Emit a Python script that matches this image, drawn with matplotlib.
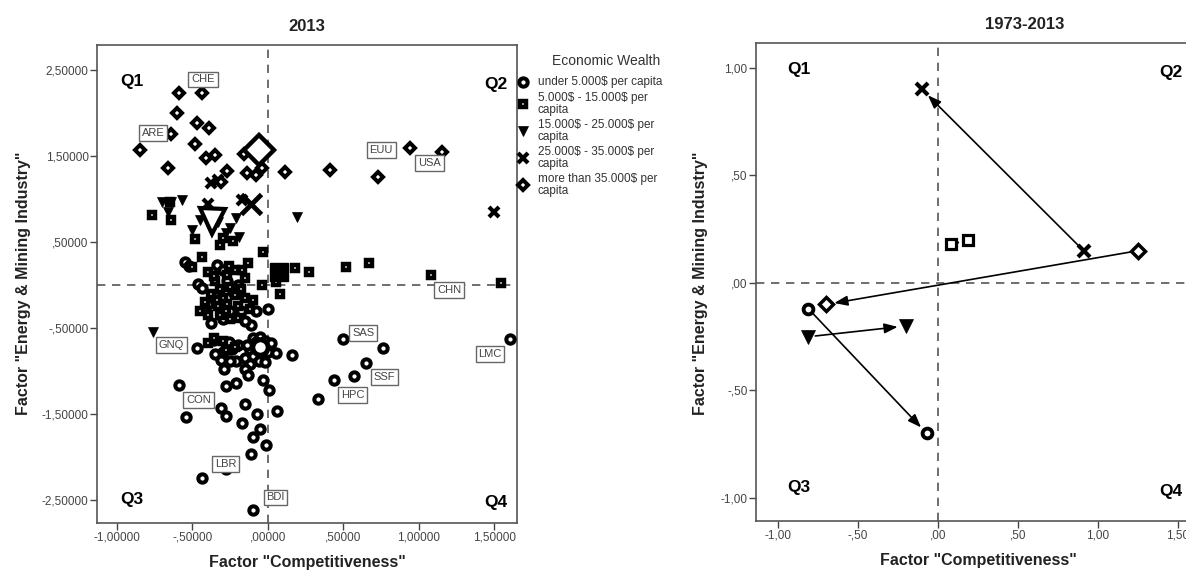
import matplotlib
matplotlib.use("Agg")
import matplotlib.pyplot as plt
from matplotlib.lines import Line2D

plt.rcParams['font.family'] = ['Liberation Sans', 'DejaVu Sans']

# ---------------- data: 2013 scatter ----------------
under5_x = [-0.55, -0.52, -0.34, -0.30, -0.46, -0.44, -0.27, -0.20, -0.38, -0.30, -0.25, -0.11, -0.08, 0.00,
            -0.20, -0.15, -0.47, -0.36, -0.26, -0.20, -0.31, -0.29, -0.21, -0.25, -0.30, -0.10, -0.05, -0.02,
            0.02, -0.08, -0.12, -0.04, 0.00, -0.15, -0.10, -0.06, -0.12, -0.15, -0.13, -0.03, 0.05, 0.16,
            -0.59, -0.54, -0.28, -0.21, -0.31, -0.28, -0.15, -0.07, 0.06, -0.03, 0.01, -0.17, -0.05, -0.10,
            -0.01, -0.11, -0.44, -0.28, -0.10, 0.50, 0.76, 0.65, 0.57, 0.44, 0.33, 1.60,
            -0.40, -0.34, -0.23, -0.18, -0.08, -0.14, -0.02, -0.24, -0.35]
under5_y = [0.27, 0.22, 0.23, 0.18, 0.01, -0.03, 0.05, 0.00, -0.44, -0.40, -0.30, -0.46, -0.30, -0.28,
            -0.35, -0.42, -0.73, -0.64, -0.66, -0.70, -0.87, -0.98, -0.88, -0.88, -0.78, -0.62, -0.60, -0.65,
            -0.68, -0.70, -0.75, -0.75, -0.78, -0.85, -0.82, -0.88, -0.92, -0.98, -1.05, -0.70, -0.79, -0.81,
            -1.16, -1.53, -1.17, -1.14, -1.43, -1.52, -1.38, -1.50, -1.46, -1.10, -1.22, -1.61, -1.68, -1.77,
            -1.86, -1.96, -2.24, -2.14, -2.62, -0.63, -0.73, -0.91, -1.06, -1.11, -1.33, -0.63,
            -0.22, -0.18, -0.08, -0.30, -0.66, -0.70, -0.90, -0.74, -0.80]

w5_15_x = [-0.77, -0.64, -0.65, -0.48, -0.32, -0.23, -0.30, -0.03, -0.44, -0.13, 0.18, 0.27, 0.52, 0.67,
           1.08, 1.54, -0.50, -0.40, -0.22, -0.17, -0.27, -0.35, -0.32, -0.25, -0.15, -0.04, 0.08, 0.05,
           -0.38, -0.30, -0.22, -0.27, -0.33, -0.45, -0.40, -0.20, -0.15, -0.25, -0.32, -0.36, -0.40,
           -0.30, -0.22, -0.28, -0.18, -0.10, -0.42, -0.36, -0.28, -0.20, -0.12, -0.26, -0.34]
w5_15_y = [0.81, 0.76, 0.97, 0.53, 0.47, 0.51, 0.55, 0.38, 0.33, 0.26, 0.20, 0.15, 0.21, 0.26,
           0.12, 0.02, 0.21, 0.15, 0.17, 0.17, 0.12, 0.05, -0.05, -0.02, 0.08, 0.00, -0.10, 0.04,
           -0.10, -0.15, -0.12, -0.22, -0.25, -0.30, -0.35, -0.25, -0.15, -0.40, -0.35, -0.62, -0.68,
           -0.65, -0.72, -0.75, -0.05, -0.18, -0.20, 0.10, -0.30, -0.38, -0.28, 0.22, -0.18]

w15_25_x = [-0.70, -0.64, -0.57, -0.66, 0.19, -0.45, -0.38, -0.25, -0.21, -0.50, -0.19, -0.33, -0.28, -0.76]
w15_25_y = [0.97, 0.97, 0.99, 0.85, 0.79, 0.76, 0.64, 0.66, 0.78, 0.64, 0.56, 0.73, 0.60, -0.55]

w25_35_x = [-0.38, -0.40, -0.17, 1.50, -0.33]
w25_35_y = [1.19, 0.94, 0.99, 0.85, 1.22]

over35_x = [-0.59, -0.44, -0.60, -0.47, -0.39, -0.64, -0.85, -0.48, -0.41, -0.35, -0.66, -0.16, -0.27,
            -0.31, -0.14, -0.08, -0.04, 0.11, 0.41, 0.73, 0.94, 1.15]
over35_y = [2.23, 2.23, 2.00, 1.88, 1.83, 1.75, 1.57, 1.64, 1.48, 1.51, 1.36, 1.52, 1.32,
            1.20, 1.30, 1.28, 1.36, 1.31, 1.34, 1.25, 1.59, 1.55]

# group centroids (large markers)
centroid_x = [-0.05, 0.07, -0.37, -0.11, -0.06]
centroid_y = [-0.72, 0.15, 0.74, 0.94, 1.57]

# labelled countries / regions
label_names = ["CHE", "ARE", "EUU", "USA", "CHN", "SAS", "GNQ", "LMC", "SSF", "HPC", "CON", "LBR", "BDI"]
label_x = [-0.43, -0.76, 0.75, 1.07, 1.20, 0.63, -0.64, 1.47, 0.77, 0.56, -0.46, -0.28, 0.05]
label_y = [2.39, 1.77, 1.57, 1.42, -0.06, -0.56, -0.70, -0.80, -1.07, -1.28, -1.34, -2.08, -2.47]

# ---------------- data: 1973-2013 trajectories ----------------
traj_start_x = [-0.81, 1.25, 0.91, -0.81, 0.08]
traj_start_y = [-0.12, 0.15, 0.15, -0.25, 0.18]
traj_end_x = [-0.07, -0.70, -0.10, -0.20, 0.19]
traj_end_y = [-0.70, -0.10, 0.90, -0.20, 0.20]

group_labels = ["under 5.000\\$ per capita", "5.000\\$ - 15.000\\$ per\ncapita",
                "15.000\\$ - 25.000\\$ per\ncapita", "25.000\\$ - 35.000\\$ per\ncapita",
                "more than 35.000\\$ per\ncapita"]

left_yticks = [2.5, 1.5, 0.5, -0.5, -1.5, -2.5]
left_xticks = [-1.0, -0.5, 0.0, 0.5, 1.0, 1.5]
right_ticks_y = [1.0, 0.5, 0.0, -0.5, -1.0]
right_ticks_x = [-1.0, -0.5, 0.0, 0.5, 1.0, 1.5]


def spss_fmt(v, dec):
    s = f"{abs(v):.{dec}f}".replace(".", ",")
    if s.startswith("0,"):
        s = s[1:]
    return ("-" if v < 0 else "") + s


# marker styles per group (small)
styles = [
    dict(marker='o', ms=6.0, mfc='white', mec='black', mew=2.9),
    dict(marker='s', ms=4.9, mfc='white', mec='black', mew=3.2),
    dict(marker='v', ms=7.5, mfc='black', mec='black', mew=0.5),
    dict(marker='x', ms=6.5, mfc='black', mec='black', mew=3.0),
    dict(marker='D', ms=5.0, mfc='white', mec='black', mew=2.9),
]
big_styles = [
    dict(marker='o', ms=11, mfc='white', mec='black', mew=3.5),
    dict(marker='s', ms=13, mfc='black', mec='black', mew=1.0),
    dict(marker='v', ms=18, mfc='white', mec='black', mew=3.0),
    dict(marker='x', ms=15, mfc='black', mec='black', mew=3.5),
    dict(marker='D', ms=15, mfc='white', mec='black', mew=3.2),
]
traj_styles = [
    dict(marker='o', ms=7, mfc='white', mec='black', mew=2.8),
    dict(marker='D', ms=7, mfc='white', mec='black', mew=2.5),
    dict(marker='x', ms=8, mfc='black', mec='black', mew=3.0),
    dict(marker='v', ms=10, mfc='black', mec='black', mew=0.5),
    dict(marker='s', ms=6.5, mfc='white', mec='black', mew=2.3),
]

W, H = 1186, 572
fig = plt.figure(figsize=(W / 100, H / 100), dpi=100)

spine_c = '#555555'
tick_c = '#444444'
dash_c = '#555555'

# ---------------- left panel ----------------
axL = fig.add_axes([97 / W, 1 - 523 / H, 420 / W, 478 / H])
axL.set_xlim(-1.132, 1.649)
axL.set_ylim(-2.767, 2.79)
axL.axhline(0, color=dash_c, lw=1.2, ls=(0, (5, 4)), zorder=1)
axL.axvline(0, color=dash_c, lw=1.2, ls=(0, (5, 4)), zorder=1)

groups = [(under5_x, under5_y), (w5_15_x, w5_15_y), (w15_25_x, w15_25_y),
          (w25_35_x, w25_35_y), (over35_x, over35_y)]
for (gx, gy), st in zip(groups, styles):
    axL.plot(gx, gy, ls='none', zorder=3, **st)
for cx, cy, st in zip(centroid_x, centroid_y, big_styles):
    axL.plot([cx], [cy], ls='none', zorder=4, **st)

for name, lx, ly in zip(label_names, label_x, label_y):
    axL.text(lx, ly, name, ha='center', va='center', fontsize=8, color='#444444', zorder=5,
             bbox=dict(boxstyle='square,pad=0.25', fc='white', ec='#666666', lw=1.0))

axL.set_xticks(left_xticks)
axL.set_xticklabels([spss_fmt(v, 5) for v in left_xticks])
axL.set_yticks(left_yticks)
axL.set_yticklabels([spss_fmt(v, 5) for v in left_yticks])
axL.tick_params(direction='out', length=5, width=1, colors=tick_c, labelsize=8.5, pad=1)
for sp in axL.spines.values():
    sp.set_color(spine_c)
    sp.set_linewidth(1.2)
axL.set_title("2013", fontsize=12, fontweight='bold', color='#222222', pad=10)
axL.set_xlabel('Factor "Competitiveness"', fontsize=11.5, fontweight='bold', color='#222222', va='center')
axL.xaxis.set_label_coords((307 - 97) / 420, -(562 - 523) / 478)
axL.set_ylabel('Factor "Energy & Mining Industry"', fontsize=11.5, fontweight='bold', color='#222222', va='center')
axL.yaxis.set_label_coords(-(97 - 24) / 420, (523 - 283) / 478)
qkw = dict(fontsize=12.5, fontweight='bold', color='black', transform=axL.transAxes, va='center')
axL.text(0.055, 0.923, "Q1", ha='left', **qkw)
axL.text(0.978, 0.918, "Q2", ha='right', **qkw)
axL.text(0.055, 0.050, "Q3", ha='left', **qkw)
axL.text(0.978, 0.042, "Q4", ha='right', **qkw)

# ---------------- legend (manual) ----------------
fig.text(606 / W, 1 - 61 / H, "Economic Wealth", ha='center', va='center', fontsize=10, color='#333333')
leg_text_y = [82, 104, 131, 158, 185]
for lab, ty, st in zip(group_labels, leg_text_y, styles):
    fig.text(538 / W, 1 - ty / H, lab, ha='left', va='center', fontsize=8.5, color='#333333',
             linespacing=0.95)
    fig.add_artist(Line2D([523 / W], [1 - ty / H], transform=fig.transFigure, ls='none', **st))

# ---------------- right panel ----------------
axR = fig.add_axes([756 / W, 1 - 521 / H, 444 / W, 478 / H])
axR.set_xlim(-1.1375, 1.6375)
axR.set_ylim(-1.107, 1.116)
axR.axhline(0, color=dash_c, lw=1.2, ls=(0, (5, 4)), zorder=1)
axR.axvline(0, color=dash_c, lw=1.2, ls=(0, (5, 4)), zorder=1)

for sx, sy, ex, ey, st in zip(traj_start_x, traj_start_y, traj_end_x, traj_end_y, traj_styles):
    axR.annotate("", xy=(ex, ey), xytext=(sx, sy),
                 arrowprops=dict(arrowstyle='-|>,head_length=0.8,head_width=0.3', color='black', lw=1.2,
                                 shrinkA=5, shrinkB=6), zorder=2)
    axR.plot([sx, ex], [sy, ey], ls='none', zorder=3, **st)

axR.set_xticks(right_ticks_x)
axR.set_xticklabels([spss_fmt(v, 2) for v in right_ticks_x])
axR.set_yticks(right_ticks_y)
axR.set_yticklabels([spss_fmt(v, 2) for v in right_ticks_y])
axR.tick_params(direction='out', length=5, width=1, colors=tick_c, labelsize=8.5, pad=1)
for sp in axR.spines.values():
    sp.set_color(spine_c)
    sp.set_linewidth(1.2)
axR.set_title("1973-2013", fontsize=12, fontweight='bold', color='#222222', pad=10, x=(1025 - 756) / 444)
axR.set_xlabel('Factor "Competitiveness"', fontsize=11.5, fontweight='bold', color='#222222', va='center')
axR.xaxis.set_label_coords((978 - 756) / 444, -(561 - 521) / 478)
axR.set_ylabel('Factor "Energy & Mining Industry"', fontsize=11.5, fontweight='bold', color='#222222', va='center')
axR.yaxis.set_label_coords(-(756 - 701) / 444, (521 - 283) / 478)
qkw2 = dict(fontsize=12.5, fontweight='bold', color='black', va='center')
axR.text(-0.94, 0.993, "Q1", ha='left', **qkw2)
axR.text(1.525, 0.98, "Q2", ha='right', **qkw2)
axR.text(-0.94, -0.95, "Q3", ha='left', **qkw2)
axR.text(1.525, -0.97, "Q4", ha='right', **qkw2)

fig.savefig("out.png", dpi=100, facecolor='white')
